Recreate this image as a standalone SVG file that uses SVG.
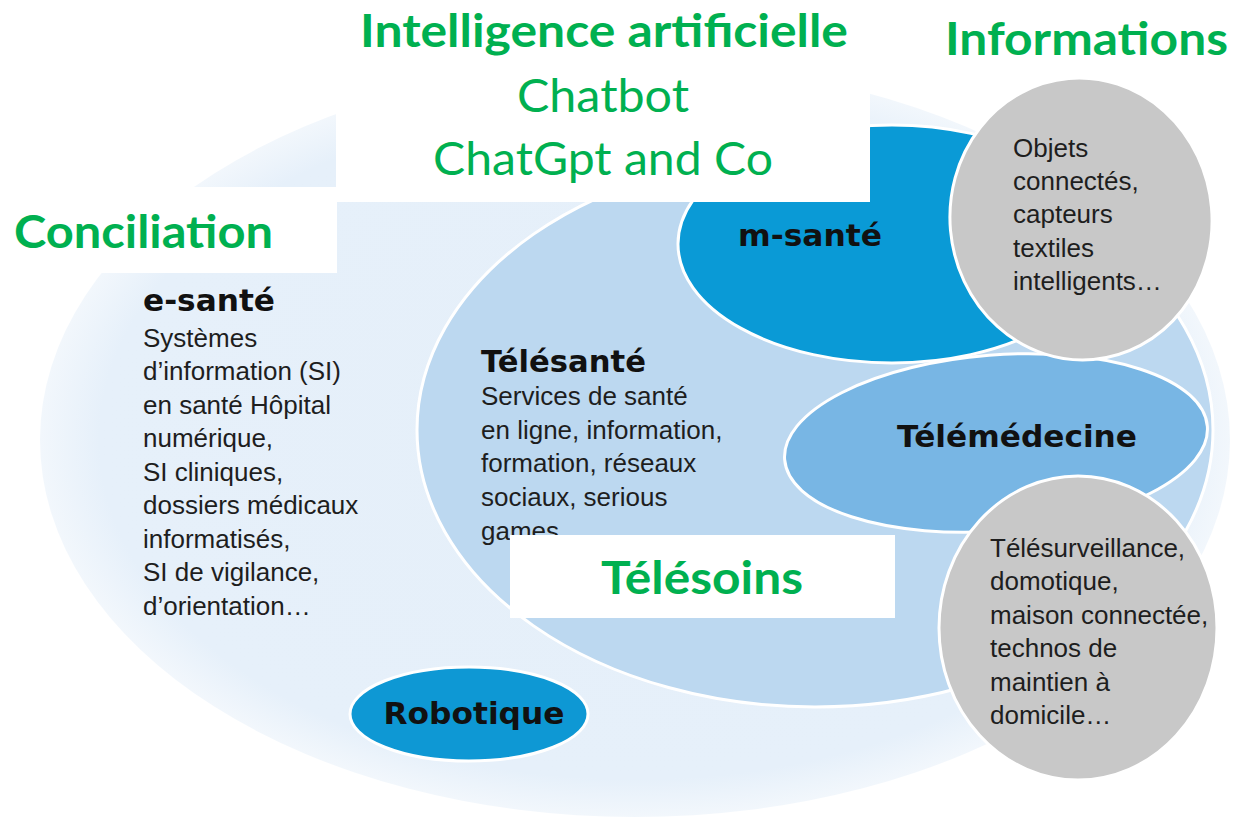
<svg xmlns="http://www.w3.org/2000/svg" width="1234" height="820" viewBox="0 0 1234 820">
  <defs>
    <radialGradient id="outerFill" cx="0.5" cy="0.5" r="0.5">
      <stop offset="0" stop-color="#e5eff9"/>
      <stop offset="0.9" stop-color="#e6f0fa"/>
      <stop offset="1" stop-color="#f2f7fc"/>
    </radialGradient>
  </defs>
  <style>
    .green{font-family:Lato,"Liberation Sans",sans-serif;fill:#00b050}
    .gb{font-weight:bold;font-size:46px}
    .gr{font-weight:normal;font-size:47px}
    .h{font-family:"DejaVu Sans",sans-serif;font-weight:bold;font-size:30px;fill:#111111}
    .b{font-family:"Liberation Sans",Arial,sans-serif;font-size:26px;fill:#1e1e1e}
    .wb{fill:#ffffff}
    .edge{stroke:#ffffff;stroke-width:3}
  </style>
  <rect width="1234" height="820" fill="#ffffff"/>

  <g id="node-esante">
    <ellipse cx="635" cy="440" rx="595" ry="377" fill="url(#outerFill)"/>
    <text class="h" x="143" y="311" textLength="132" lengthAdjust="spacingAndGlyphs">e-santé</text>
    <text class="b">
      <tspan x="143" y="347">Systèmes</tspan>
      <tspan x="143" y="380">d’information (SI)</tspan>
      <tspan x="143" y="414">en santé Hôpital</tspan>
      <tspan x="143" y="447">numérique,</tspan>
      <tspan x="143" y="481">SI cliniques,</tspan>
      <tspan x="143" y="514">dossiers médicaux</tspan>
      <tspan x="143" y="548">informatisés,</tspan>
      <tspan x="143" y="581">SI de vigilance,</tspan>
      <tspan x="143" y="615">d’orientation…</tspan>
    </text>
  </g>

  <g id="node-telesante">
    <ellipse class="edge" cx="815" cy="430" rx="398" ry="277" fill="#bcd8f0"/>
    <text class="h" x="481" y="372" textLength="165" lengthAdjust="spacingAndGlyphs">Télésanté</text>
    <text class="b">
      <tspan x="481" y="405">Services de santé</tspan>
      <tspan x="481" y="439">en ligne, information,</tspan>
      <tspan x="481" y="472">formation, réseaux</tspan>
      <tspan x="481" y="506">sociaux, serious</tspan>
      <tspan x="481" y="540">games</tspan>
    </text>
  </g>

  <g id="node-robotique">
    <ellipse class="edge" cx="469" cy="714" rx="119" ry="47" fill="#0e98d4"/>
    <text class="h" x="474" y="724" text-anchor="middle" textLength="181" lengthAdjust="spacingAndGlyphs">Robotique</text>
  </g>

  <g id="node-msante">
    <ellipse class="edge" cx="892" cy="244" rx="214" ry="119" fill="#0a9ad6"/>
    <text class="h" x="810" y="246" text-anchor="middle" textLength="144" lengthAdjust="spacingAndGlyphs">m-santé</text>
  </g>

  <g id="node-telemedecine">
    <ellipse class="edge" cx="996" cy="443" rx="212" ry="88" transform="rotate(-4.5 996 443)" fill="#78b6e4"/>
    <text class="h" x="1017" y="447" text-anchor="middle" textLength="240" lengthAdjust="spacingAndGlyphs">Télémédecine</text>
  </g>

  <g id="node-objets">
    <ellipse class="edge" cx="1081" cy="219" rx="131" ry="141" transform="rotate(-5 1081 219)" fill="#c8c8c8"/>
    <text class="b">
      <tspan x="1013" y="157">Objets</tspan>
      <tspan x="1013" y="190">connectés,</tspan>
      <tspan x="1013" y="223">capteurs</tspan>
      <tspan x="1013" y="257">textiles</tspan>
      <tspan x="1013" y="290">intelligents…</tspan>
    </text>
  </g>

  <g id="node-telesurveillance">
    <ellipse class="edge" cx="1078" cy="628" rx="139" ry="152" fill="#c8c8c8"/>
    <text class="b">
      <tspan x="990" y="557">Télésurveillance,</tspan>
      <tspan x="990" y="590">domotique,</tspan>
      <tspan x="990" y="624">maison connectée,</tspan>
      <tspan x="990" y="657">technos de</tspan>
      <tspan x="990" y="691">maintien à</tspan>
      <tspan x="990" y="724">domicile…</tspan>
    </text>
  </g>

  <g id="label-ia">
    <rect class="wb" x="336" y="0" width="534" height="202"/>
    <text class="green gb" x="604" y="47" text-anchor="middle" textLength="488" lengthAdjust="spacingAndGlyphs">Intelligence artificielle</text>
    <text class="green gr" x="603" y="112" text-anchor="middle" textLength="172" lengthAdjust="spacingAndGlyphs">Chatbot</text>
    <text class="green gr" x="603" y="175" text-anchor="middle" textLength="340" lengthAdjust="spacingAndGlyphs">ChatGpt and Co</text>
  </g>

  <g id="label-conciliation">
    <rect class="wb" x="0" y="187" width="337" height="86"/>
    <text class="green gb" x="14" y="248" textLength="259" lengthAdjust="spacingAndGlyphs">Conciliation</text>
  </g>

  <g id="label-informations">
    <text class="green gb" x="945" y="55" textLength="283" lengthAdjust="spacingAndGlyphs">Informations</text>
  </g>

  <g id="label-telesoins">
    <rect class="wb" x="510" y="535" width="385" height="83"/>
    <text class="green gb" x="702" y="594" text-anchor="middle" textLength="202" lengthAdjust="spacingAndGlyphs">Télésoins</text>
  </g>

  <g id="connectors"/>
</svg>
